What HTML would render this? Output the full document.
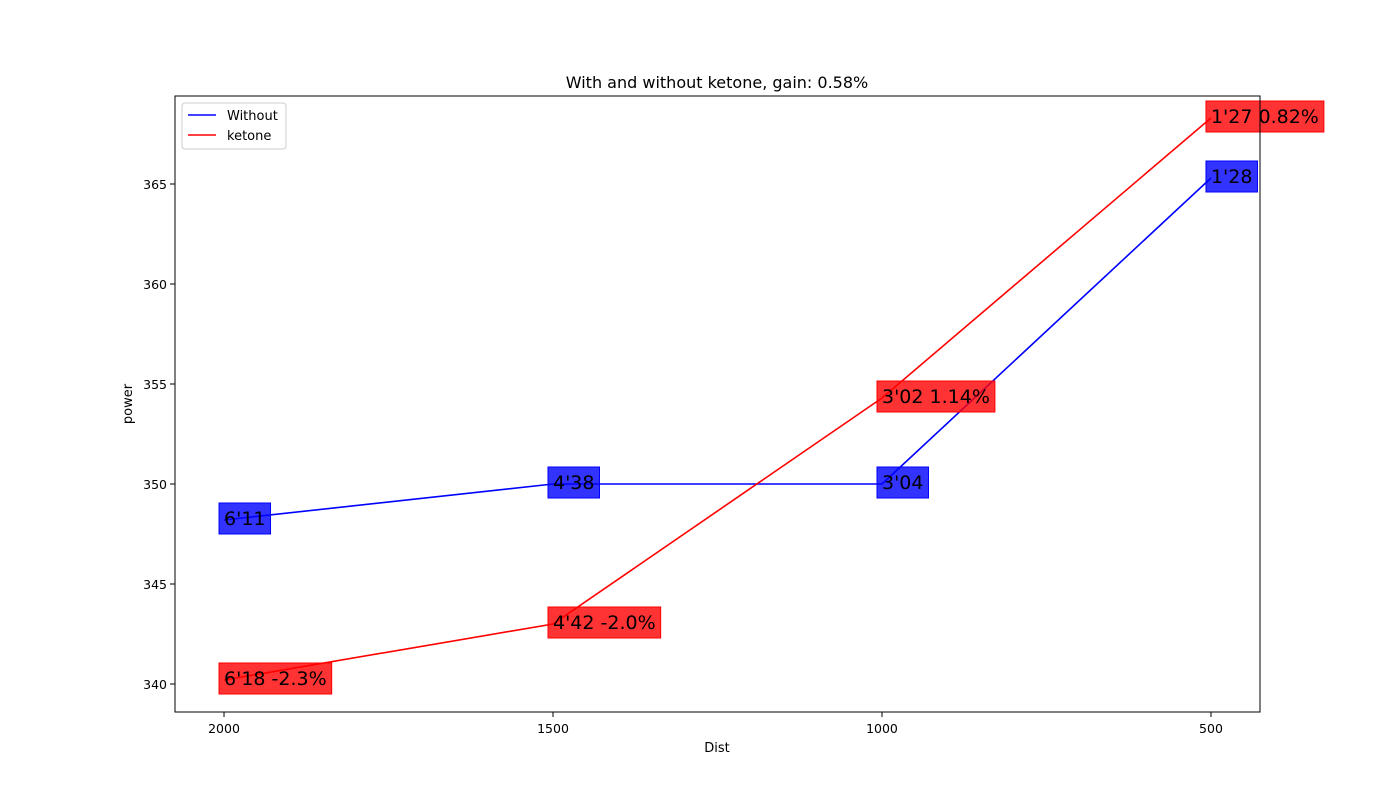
<!DOCTYPE html>
<html><head><meta charset="utf-8"><style>
body{margin:0;background:#fff;}
svg text{font-family:"DejaVu Sans","Liberation Sans",sans-serif;}
</style></head><body>
<svg id="chart" width="1400" height="800" xmlns="http://www.w3.org/2000/svg">
<rect width="1400" height="800" fill="#fff"/>
<text x="717" y="88" font-size="16" text-anchor="middle">With and without ketone, gain: 0.58%</text>
<g id="axes"></g>
<g id="series"></g>
<g id="labels"></g>
<rect x="175" y="96" width="1085" height="616" fill="none" stroke="#000" stroke-width="1"/>
<g>
<rect x="182" y="103" width="104" height="46" fill="#fff" stroke="#ccc" rx="3"/>
<line x1="188" y1="115" x2="216" y2="115" stroke="blue" stroke-width="1.5"/>
<text x="227" y="120" font-size="13">Without</text>
<line x1="188" y1="135" x2="216" y2="135" stroke="red" stroke-width="1.5"/>
<text x="227" y="140" font-size="13">ketone</text>
</g>
<text x="717" y="752" font-size="13" text-anchor="middle">Dist</text>
<text x="132" y="404" font-size="13" text-anchor="middle" transform="rotate(-90 132 404)">power</text>
</svg>
<script>
const categories=[2000,1500,1000,500];
const withoutVals=[348.2,350,350,365.3];
const ketoneVals=[340.2,343,354.3,368.3];
const withoutLabels=["6'11","4'38","3'04","1'28"];
const ketoneLabels=["6'18 -2.3%","4'42 -2.0%","3'02 1.14%","1'27 0.82%"];
const xTicks=[2000,1500,1000,500];
const yTicks=[340,345,350,355,360,365];
const L=175,R=1260,T=96,B=712;
const xMin=2074.5,xMax=425.5,yMin=338.6,yMax=369.4;
const X=v=>L+(v-xMin)/(xMax-xMin)*(R-L);
const Y=v=>B-(v-yMin)/(yMax-yMin)*(B-T);
const NS="http://www.w3.org/2000/svg";
function mk(tag,attrs,parent){const e=document.createElementNS(NS,tag);for(const k in attrs)e.setAttribute(k,attrs[k]);parent.appendChild(e);return e;}
const ax=document.getElementById('axes');
xTicks.forEach(t=>{
 const l=mk('line',{x1:X(t),x2:X(t),y1:B,y2:B+5,stroke:'#000'},ax);
 
 
 const tx=mk('text',{x:X(t),y:B+21,'font-size':12.5,'text-anchor':'middle'},ax);tx.textContent=t;
 
 
});
yTicks.forEach(t=>{
 const l=mk('line',{x1:L-5,x2:L,y1:Y(t),y2:Y(t),stroke:'#000'},ax);
 
 
 const tx=mk('text',{x:L-8,y:Y(t)+5,'font-size':12.5,'text-anchor':'end'},ax);tx.textContent=t;
 
 
});
const sg=document.getElementById('series'),lg=document.getElementById('labels');
function series(vals,color,name,labels,fill){
 const p=mk('polyline',{points:categories.map((c,i)=>X(c)+','+Y(vals[i])).join(' '),fill:'none',stroke:color,'stroke-width':1.6},sg);
 
 
 categories.forEach((c,i)=>{
  const g=mk('g',{},lg);
  
  
  const r=mk('rect',{x:X(c)-5,y:Y(vals[i])-17,height:31,fill:fill,'fill-opacity':0.8,stroke:fill},g);
  const t=mk('text',{x:X(c),y:Y(vals[i])+5,'font-size':19,fill:'#000'},g);t.textContent=labels[i];
  r.setAttribute('width',t.getComputedTextLength()+10);
 });
}
series(withoutVals,'blue','without',withoutLabels,'#0000ff');
series(ketoneVals,'red','ketone',ketoneLabels,'#ff0000');
</script>
</body></html>
